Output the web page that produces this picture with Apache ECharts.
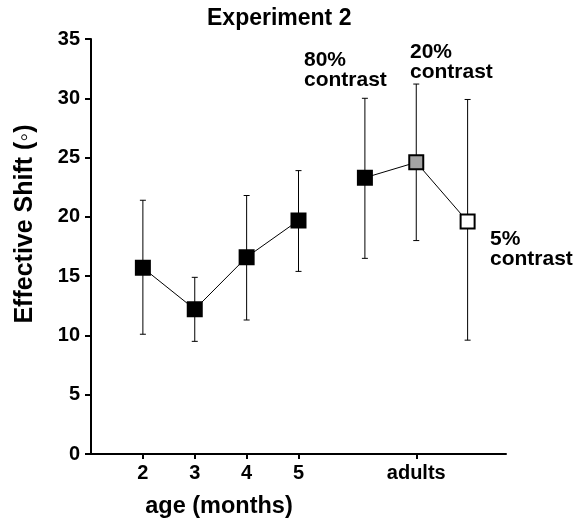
<!DOCTYPE html>
<html>
<head>
<meta charset="utf-8">
<script src="https://cdn.jsdelivr.net/npm/echarts@6/dist/echarts.min.js"></script>
<style>html,body{margin:0;padding:0;background:#fff;}#c{width:582px;height:519px;}</style>
</head>
<body>
<div id="c"></div>
<script>
// ---- data ----
const tickValues = [2, 3, 4, 5, 7.27];
const tickLabels = ['2', '3', '4', '5', 'adults'];

const infantX = [2, 3, 4, 5];
const infantMean = [15.7, 12.2, 16.6, 19.7];
const infantLow = [10.1, 9.5, 11.3, 15.4];
const infantHigh = [21.4, 14.9, 21.8, 23.9];

const adultX = [6.28, 7.27, 8.26];
const adultNames = ['80%\ncontrast', '20%\ncontrast', '5%\ncontrast'];
const adultMean = [23.3, 24.6, 19.6];
const adultLow = [16.5, 18.0, 9.6];
const adultHigh = [30.0, 31.2, 29.9];
const adultFill = ['#000000', '#a3a3a3', '#ffffff'];

const FONT = '"Liberation Sans", Arial, Helvetica, sans-serif';

const chart = echarts.init(document.getElementById('c'), null, {renderer: 'canvas'});

const errData = infantX.map((x, i) => [x, infantLow[i], infantHigh[i]])
  .concat(adultX.map((x, i) => [x, adultLow[i], adultHigh[i]]));

const option = {
  backgroundColor: '#fff',
  animation: false,
  title: {
    text: 'Experiment 2',
    left: 207, top: 7, padding: 0,
    textStyle: {fontFamily: FONT, fontWeight: 'bold', fontSize: 23, color: '#000'}
  },
  grid: {left: 91, right: 76, top: 39, bottom: 65},
  xAxis: {
    type: 'value', min: 1, max: 9,
    splitLine: {show: false},
    axisLine: {show: true, onZero: false, lineStyle: {color: '#000', width: 2}},
    axisTick: {show: true, customValues: tickValues, length: 5, lineStyle: {color: '#000', width: 2}},
    axisLabel: {
      customValues: tickValues, margin: 9,
      fontFamily: FONT, fontWeight: 'bold', fontSize: 20, color: '#000',
      formatter: v => { const i = tickValues.indexOf(v); return i >= 0 ? tickLabels[i] : ''; }
    }
  },
  yAxis: {
    type: 'value', min: 0, max: 35, interval: 5,
    splitLine: {show: false},
    axisLine: {show: true, lineStyle: {color: '#000', width: 2}},
    axisTick: {show: true, length: 6, lineStyle: {color: '#000', width: 2}},
    axisLabel: {margin: 11, fontFamily: FONT, fontWeight: 'bold', fontSize: 20, color: '#000', padding: [0, 0, 5, 0]}
  },
  graphic: [
    {type: 'text', x: 25, y: 224, rotation: Math.PI / 2,
      style: {text: 'Effective Shift (◦)', font: 'bold 25px ' + FONT, fill: '#000', align: 'center', verticalAlign: 'middle'}},
    {type: 'text', x: 219, y: 507,
      style: {text: 'age (months)', font: 'bold 23.5px ' + FONT, fill: '#000', align: 'center', verticalAlign: 'middle'}},
    {type: 'text', x: 304, y: 50,
      style: {text: adultNames[0], font: 'bold 21px ' + FONT, fill: '#000', lineHeight: 20, verticalAlign: 'top'}},
    {type: 'text', x: 410, y: 42,
      style: {text: adultNames[1], font: 'bold 21px ' + FONT, fill: '#000', lineHeight: 20, verticalAlign: 'top'}},
    {type: 'text', x: 490, y: 229,
      style: {text: adultNames[2], font: 'bold 21px ' + FONT, fill: '#000', lineHeight: 20, verticalAlign: 'top'}}
  ],
  series: [
    {
      type: 'custom', z: 1, silent: true,
      encode: {x: 0, y: [1, 2]},
      data: errData,
      renderItem: (params, api) => {
        const x = api.value(0);
        const lo = api.coord([x, api.value(1)]);
        const hi = api.coord([x, api.value(2)]);
        const cw = 3;
        const st = {stroke: '#000', lineWidth: 1};
        return {type: 'group', children: [
          {type: 'line', shape: {x1: lo[0], y1: lo[1], x2: hi[0], y2: hi[1]}, style: st},
          {type: 'line', shape: {x1: lo[0] - cw, y1: lo[1], x2: lo[0] + cw, y2: lo[1]}, style: st},
          {type: 'line', shape: {x1: hi[0] - cw, y1: hi[1], x2: hi[0] + cw, y2: hi[1]}, style: st}
        ]};
      }
    },
    {
      type: 'line', z: 3,
      data: infantX.map((x, i) => [x, infantMean[i]]),
      symbol: 'rect', symbolSize: 14,
      lineStyle: {color: '#000', width: 1},
      itemStyle: {color: '#000', borderColor: '#000', borderWidth: 2}
    },
    {
      type: 'line', z: 3,
      data: adultX.map((x, i) => ({value: [x, adultMean[i]], itemStyle: {color: adultFill[i]}})),
      symbol: 'rect', symbolSize: 14,
      lineStyle: {color: '#000', width: 1},
      itemStyle: {borderColor: '#000', borderWidth: 2}
    }
  ]
};
chart.setOption(option);
</script>
</body>
</html>
